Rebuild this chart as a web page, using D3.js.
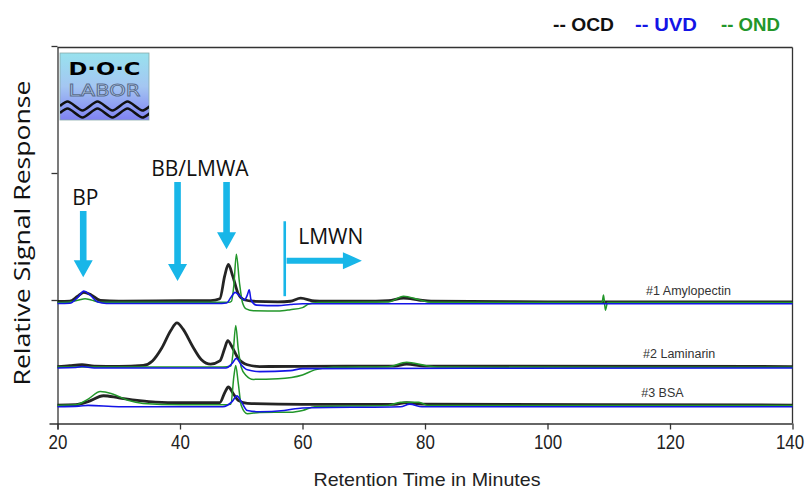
<!DOCTYPE html>
<html><head><meta charset="utf-8">
<script src="https://cdn.jsdelivr.net/npm/d3@7/dist/d3.min.js"></script>
<style>
html,body{margin:0;padding:0;background:#fff;}
svg{display:block;}
</style></head>
<body>
<svg id="chart" width="809" height="492"></svg>
<script>
// ---------------- DATA ----------------
const xTicks = [20, 40, 60, 80, 100, 120, 140];
const yTicks = [100, 200, 300];
const detectors = ["OCD", "UVD", "OND"];
const sampleLabels = ["#1 Amylopectin", "#2 Laminarin", "#3 BSA"];
const sampleLabelPos = [[116.1, 104], [115.6, 54], [115.3, 24]]; // [time, signal]

// [retention time (min), relative signal]
const ocd1 = [[20,98.8],[22,99],[23.3,103],[24.3,106],[25.5,104],[27,99.6],[30,99],[40,99.4],[45,99.5],[46.5,101],[47.3,119],[47.9,128],[48.6,119],[49.5,105],[50.5,100.2],[52,99],[56,98.6],[58,99],[59.7,101.5],[62,99.2],[70,99],[74,99.4],[76.5,101.5],[79,100],[81,99],[100,98.6],[140,98.6]];
const uvd1 = [[20,97.2],[22,97.4],[23.3,102],[24.3,107],[25.3,104],[26.5,98.6],[28,97.2],[46,97.2],[47.6,97.6],[48.3,102],[49,106],[49.8,103],[50.5,100],[51,104],[51.3,108],[51.6,100],[52.5,96],[56,95.6],[58,96.4],[60,97],[140,97]];
const ond1 = [[20,98],[22,98.4],[23.5,100],[24.5,101],[25.5,100],[27,98.2],[48,98.2],[48.4,99],[48.8,112],[49.2,136],[49.7,114],[50.2,98],[50.8,93],[52,91.5],[56,91.4],[58,92.4],[60,94],[61,96.8],[62.5,98],[74,98.4],[76.5,103],[79,100.3],[81,98.2],[108.9,98],[109.15,104],[109.45,92],[109.8,98],[140,98]];

const ocd2 = [[20,47.6],[22,48.4],[24,49],[26,48],[30,47.8],[34,48.5],[35.5,52],[37,62],[38.5,76],[39.5,82],[40.5,77],[42,64],[43.5,53],[45,49.5],[46.5,52],[47.3,62],[47.8,68],[48.5,63],[49.5,54],[51,49],[53,47.6],[60,47.8],[75,48],[77,49.6],[80,48],[140,47.6]];
const uvd2 = [[20,46.5],[23,46.8],[24,47.6],[26,46.5],[47.5,46.5],[48.5,50],[49.2,54],[50,49],[51,45],[53,43.6],[58,44.4],[60,46],[140,46.5]];
const ond2 = [[20,47.2],[47,47.2],[48.3,48],[48.7,60],[49.1,80],[49.5,62],[50,47],[50.7,41],[52,37.5],[56,38],[60,41],[62,45],[65,47],[74,47.5],[77,51],[80,48.5],[82,47.2],[140,47]];

const ocd3 = [[20,17.3],[23,17.6],[25,20],[27.5,24.6],[30,23],[33,21],[36,19.6],[40,19.2],[46.5,19.2],[47.3,27],[47.9,31.5],[48.6,27],[49.5,21],[51,18.6],[60,17.8],[75,17.8],[77,19.2],[79.5,18],[140,17.3]];
const uvd3 = [[20,16],[23.5,16.4],[25,17],[30,16],[47,16],[48.5,20],[49.3,24.5],[50,20],[51,13],[53,12],[57,13],[60,15],[76,16],[77.5,18],[79.5,16],[140,16]];
const ond3 = [[20,17],[23,17.5],[25,22],[27,28],[29,26],[31.5,21],[34,18.6],[40,17.5],[47,17.5],[48.3,18],[48.8,40],[49.1,48.5],[49.5,35],[50,17],[51,10.5],[53,11.5],[58,11.6],[60,13],[62,16],[74,17],[76,19.5],[79,19.5],[80.5,17],[140,17]];

const series = [
  {det:"OCD", pts:ocd1}, {det:"OCD", pts:ocd2}, {det:"OCD", pts:ocd3},
  {det:"OND", pts:ond1}, {det:"OND", pts:ond2}, {det:"OND", pts:ond3},
  {det:"UVD", pts:uvd1}, {det:"UVD", pts:uvd2}, {det:"UVD", pts:uvd3}
];

// annotation arrows: [time, signalTop, signalTip]
const downArrows = [[24.2, 170, 118], [39.6, 193, 115], [47.6, 193, 140]];
const annotLabels = [["BP", 22.4, 175], ["BB/LMWA", 35.3, 198], ["LMWN", 59.3, 144]];
const lmwnBar = [57.1, 162, 103];
const lmwnArrow = [57.4, 69.7, 131];

// ---------------- STYLE / LAYOUT ----------------
const colors = {OCD:"#111111", UVD:"#1414e6", OND:"#22962a"};
const widths = {OCD:2.8, UVD:1.6, OND:1.5};
const cyan = "#18b6e8";
const padL = 57.5, padR = 792.5, padT = 47.5, padB = 423.5;
const narrow = "'Liberation Sans Narrow','Arial Narrow','Liberation Sans',Arial,sans-serif";

const svg = d3.select("#chart");
const x = d3.scaleLinear().domain([20, 140]).range([padL, padR]);
const y = d3.scaleLinear().domain([0, 300]).range([427, 46]);

// frame top & right
svg.append("line").attr("x1", padL).attr("x2", padR).attr("y1", padT).attr("y2", padT)
  .attr("stroke", "#333").attr("stroke-width", 1.3);
svg.append("line").attr("x1", padR).attr("x2", padR).attr("y1", padT).attr("y2", padB)
  .attr("stroke", "#333").attr("stroke-width", 1.3);

// x axis
const xAxis = svg.append("g").attr("transform", `translate(0,${padB})`)
  .call(d3.axisBottom(x).tickValues(xTicks).tickSize(6).tickSizeOuter(0).tickPadding(5));
xAxis.select(".domain").attr("stroke", "#333").attr("stroke-width", 1.3)
  .attr("d", `M${padL - 8},0.5H${padR}`);
xAxis.selectAll(".tick line").attr("stroke", "#333").attr("stroke-width", 1.3);
xAxis.selectAll(".tick text").attr("font-family", narrow)
  .attr("font-size", 20).attr("fill", "#222")
  .attr("dx", d => d === 140 ? -3 : 0)
  .attr("textLength", d => String(d).length * 9.4).attr("lengthAdjust", "spacingAndGlyphs");

// y axis
const yAxis = svg.append("g").attr("transform", `translate(${padL},0)`)
  .call(d3.axisLeft(y).tickValues(yTicks).tickSize(6).tickSizeOuter(0).tickFormat(""));
yAxis.select(".domain").attr("stroke", "#333").attr("stroke-width", 1.3)
  .attr("d", `M0.5,${padT}V${padB + 6}`);
yAxis.selectAll(".tick line").attr("stroke", "#333").attr("stroke-width", 1.3);

// axis titles
svg.append("text").attr("x", (padL + padR) / 2 + 2).attr("y", 486).attr("text-anchor", "middle")
  .attr("font-family", narrow).attr("font-size", 19)
  .attr("textLength", 227).attr("lengthAdjust", "spacingAndGlyphs")
  .attr("fill", "#222").text("Retention Time in Minutes");
svg.append("text").attr("transform", "translate(30,233) rotate(-90)").attr("text-anchor", "middle")
  .attr("font-family", "'Open Sans',sans-serif").attr("font-size", 22).attr("fill", "#111")
  .attr("textLength", 305).attr("lengthAdjust", "spacingAndGlyphs")
  .text("Relative Signal Response");

// legend
const legX = [553, 635, 721];
const legW = [61, 62, 59];
detectors.forEach((d, i) => {
  svg.append("text").attr("x", legX[i]).attr("y", 31)
    .attr("font-family", narrow).attr("font-size", 19)
    .attr("textLength", legW[i]).attr("lengthAdjust", "spacingAndGlyphs")
    .attr("font-weight", "bold").attr("fill", colors[d]).text("-- " + d);
});

// logo
const defs = svg.append("defs");
const grad = defs.append("linearGradient").attr("id", "logoGrad").attr("x1", 0).attr("x2", 0).attr("y1", 0).attr("y2", 1);
grad.append("stop").attr("offset", "0%").attr("stop-color", "#98e2ee");
grad.append("stop").attr("offset", "50%").attr("stop-color", "#a4c6f2");
grad.append("stop").attr("offset", "100%").attr("stop-color", "#7f82f2");
defs.append("clipPath").attr("id", "logoClip").append("rect").attr("x", 60).attr("y", 53).attr("width", 89).attr("height", 67);
const logo = svg.append("g");
logo.append("rect").attr("x", 60).attr("y", 53).attr("width", 89).attr("height", 67)
  .attr("fill", "url(#logoGrad)").attr("stroke", "#8aa").attr("stroke-width", 0.8);
logo.append("text").attr("x", 104.5).attr("y", 75).attr("text-anchor", "middle")
  .attr("font-family", "'DejaVu Sans',sans-serif").attr("font-weight", "bold").attr("font-size", 18)
  .attr("textLength", 72).attr("lengthAdjust", "spacingAndGlyphs").attr("fill", "#000").text("D·O·C");
logo.append("text").attr("x", 104.5).attr("y", 96).attr("text-anchor", "middle")
  .attr("font-family", "'DejaVu Sans',sans-serif").attr("font-size", 15)
  .attr("textLength", 72).attr("lengthAdjust", "spacingAndGlyphs")
  .attr("fill", "#b8d4f4").attr("stroke", "#5a6c8c").attr("stroke-width", 0.8).text("LABOR");
[106, 113].forEach(yy => {
  let p = `M60,${yy}`;
  for (let k = 0; k < 3; k++) {
    const x0 = 60 + k * 30;
    p += ` C${x0 + 7.5},${yy - 6} ${x0 + 7.5},${yy - 6} ${x0 + 15},${yy} S${x0 + 22.5},${yy + 6} ${x0 + 30},${yy}`;
  }
  logo.append("path").attr("d", p).attr("fill", "none").attr("stroke", "#111").attr("stroke-width", 2.6)
    .attr("clip-path", "url(#logoClip)");
});

// traces
const line = d3.line().x(d => x(d[0])).y(d => y(d[1])).curve(d3.curveMonotoneX);
svg.append("g").selectAll("path").data(series).join("path")
  .attr("d", d => line(d.pts)).attr("fill", "none")
  .attr("stroke", d => colors[d.det]).attr("stroke-width", d => widths[d.det])
  .attr("stroke-linejoin", "round").attr("opacity", d => d.det === "OCD" ? 0.92 : 1);

// sample labels
svg.append("g").selectAll("text").data(sampleLabels).join("text")
  .attr("x", (d, i) => x(sampleLabelPos[i][0])).attr("y", (d, i) => y(sampleLabelPos[i][1]))
  .attr("font-family", "'Liberation Sans',Arial,sans-serif").attr("font-size", 12.5).attr("fill", "#333")
  .text(d => d);

// annotations
const ann = svg.append("g");
downArrows.forEach(a => {
  const cx = x(a[0]), y0 = y(a[1]), tip = y(a[2]);
  const headH = 17, headW = 9.5, shaft = 3.3;
  ann.append("path").attr("fill", cyan)
    .attr("d", `M${cx - shaft},${y0} H${cx + shaft} V${tip - headH} H${cx + headW} L${cx},${tip} L${cx - headW},${tip - headH} H${cx - shaft} Z`);
});
ann.append("line").attr("x1", x(lmwnBar[0])).attr("x2", x(lmwnBar[0]))
  .attr("y1", y(lmwnBar[1])).attr("y2", y(lmwnBar[2])).attr("stroke", cyan).attr("stroke-width", 2.6);
{
  const x0 = x(lmwnArrow[0]), x1 = x(lmwnArrow[1]), cy = y(lmwnArrow[2]);
  const headL = 19, headW = 8.5, shaft = 3;
  ann.append("path").attr("fill", cyan)
    .attr("d", `M${x0},${cy - shaft} H${x1 - headL} V${cy - headW} L${x1},${cy} L${x1 - headL},${cy + headW} V${cy + shaft} H${x0} Z`);
}
annotLabels.forEach(l => {
  ann.append("text").attr("x", x(l[1])).attr("y", y(l[2]))
    .attr("font-family", "'Open Sans',sans-serif").attr("font-size", 21).attr("fill", "#111").text(l[0]);
});
</script>
</body></html>
